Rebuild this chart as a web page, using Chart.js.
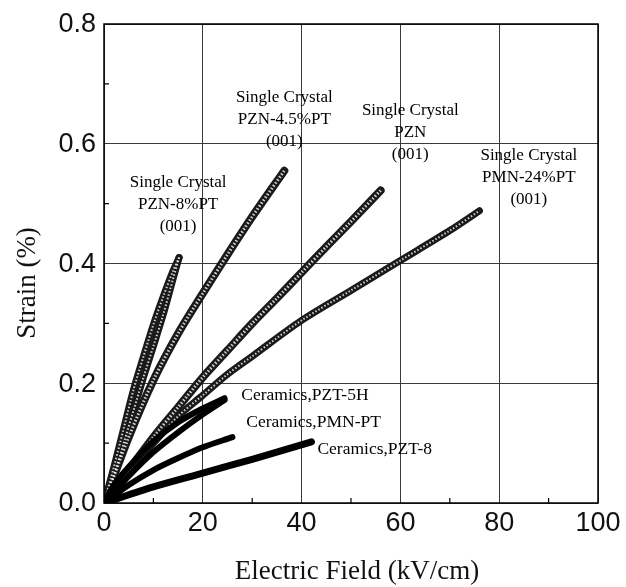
<!DOCTYPE html>
<html>
<head>
<meta charset="utf-8">
<script src="https://cdn.jsdelivr.net/npm/chart.js@4/dist/chart.umd.min.js"></script>
<style>
html,body{margin:0;padding:0;background:#fff;}
#wrap{width:626px;height:587px;}
</style>
</head>
<body>
<div id="wrap"><canvas id="c" width="626" height="587"></canvas></div>
<script>
// ---- data (Electric Field kV/cm, Strain %) ----
const X_TICKS = [0, 20, 40, 60, 80, 100];
const Y_TICKS = [0.0, 0.2, 0.4, 0.6, 0.8];

const FIELD_PZN8_UP = [0, 2, 4, 6, 8, 10, 12, 14, 15.2];
const STRAIN_PZN8_UP = [0, 0.06, 0.125, 0.19, 0.245, 0.298, 0.345, 0.388, 0.41];
const FIELD_PZN8_DOWN = [0, 2, 4, 6, 8, 10, 12, 14, 15.2];
const STRAIN_PZN8_DOWN = [0, 0.045, 0.1, 0.155, 0.21, 0.262, 0.315, 0.375, 0.41];

const FIELD_PZN45 = [0, 5, 10, 15, 20, 25, 30, 36.5];
const STRAIN_PZN45 = [0, 0.11, 0.205, 0.283, 0.35, 0.415, 0.478, 0.555];

const FIELD_PZN = [0, 5, 10, 15, 20, 25, 30, 35, 40, 45, 50, 56];
const STRAIN_PZN = [0, 0.055, 0.11, 0.16, 0.21, 0.255, 0.3, 0.342, 0.385, 0.428, 0.47, 0.522];

const FIELD_PMN24 = [0, 5, 10, 15, 20, 25, 30, 40, 50, 60, 70, 76];
const STRAIN_PMN24 = [0, 0.055, 0.1, 0.145, 0.18, 0.215, 0.245, 0.305, 0.355, 0.405, 0.455, 0.488];

const FIELD_PZT5H_UP = [0, 2, 5, 10, 15, 20, 24.4];
const STRAIN_PZT5H_UP = [0, 0.03, 0.06, 0.103, 0.135, 0.158, 0.175];
const FIELD_PZT5H_DOWN = [0, 2, 5, 10, 15, 20, 24.4];
const STRAIN_PZT5H_DOWN = [0, 0.018, 0.045, 0.085, 0.118, 0.148, 0.172];

const FIELD_PMNPT_CER = [0, 5, 10, 15, 20, 26];
const STRAIN_PMNPT_CER = [0, 0.03, 0.055, 0.075, 0.093, 0.11];

const FIELD_PZT8 = [0, 10, 20, 30, 42];
const STRAIN_PZT8 = [0, 0.027, 0.05, 0.073, 0.102];

const LABELS = [
  {lines: ['Single Crystal', 'PZN-8%PT', '(001)'], x: 15, y: 0.535},
  {lines: ['Single Crystal', 'PZN-4.5%PT', '(001)'], x: 36.5, y: 0.678},
  {lines: ['Single Crystal', 'PZN', '(001)'], x: 62, y: 0.655},
  {lines: ['Single Crystal', 'PMN-24%PT', '(001)'], x: 86, y: 0.58},
];
const CER_LABELS = [
  {text: 'Ceramics,PZT-5H', x: 27.8, y: 0.18},
  {text: 'Ceramics,PMN-PT', x: 28.8, y: 0.135},
  {text: 'Ceramics,PZT-8', x: 43.2, y: 0.09},
];

function pts(xs, ys){ return xs.map((x, i) => ({x: x, y: ys[i]})); }

function crystal(xs, ys, w){
  return [
    {data: pts(xs, ys), showLine: true, borderColor: '#1a1a1a', borderWidth: w,
     pointRadius: 0, borderCapStyle: 'round', borderJoinStyle: 'round', tension: 0.3, order: 2},
    {data: pts(xs, ys), showLine: true, borderColor: 'rgba(255,255,255,0.8)', borderWidth: Math.max(w - 5, 1.5),
     borderDash: [1.5, 2], pointRadius: 0, borderCapStyle: 'butt', tension: 0.3, order: 1}
  ];
}
function ceramic(xs, ys, w){
  return {data: pts(xs, ys), showLine: true, borderColor: '#000', borderWidth: w,
    pointRadius: 0, borderCapStyle: 'round', borderJoinStyle: 'round', tension: 0.3, order: 0};
}

const datasets = [].concat(
  crystal(FIELD_PZN8_UP, STRAIN_PZN8_UP, 7),
  crystal(FIELD_PZN8_DOWN, STRAIN_PZN8_DOWN, 7),
  crystal(FIELD_PZN45, STRAIN_PZN45, 8),
  crystal(FIELD_PZN, STRAIN_PZN, 8),
  crystal(FIELD_PMN24, STRAIN_PMN24, 7),
  [ceramic(FIELD_PZT5H_UP, STRAIN_PZT5H_UP, 6),
   ceramic(FIELD_PZT5H_DOWN, STRAIN_PZT5H_DOWN, 6),
   ceramic(FIELD_PMNPT_CER, STRAIN_PMNPT_CER, 6),
   ceramic(FIELD_PZT8, STRAIN_PZT8, 7)]
);

const decor = {
  id: 'decor',
  afterDraw(chart){
    const {ctx, chartArea: a, scales: {x, y}} = chart;
    ctx.save();
    // frame
    ctx.strokeStyle = '#000';
    ctx.lineWidth = 1.5;
    ctx.strokeRect(a.left, a.top, a.right - a.left, a.bottom - a.top);
    // minor inward ticks
    ctx.lineWidth = 1.2;
    ctx.beginPath();
    for (let v = 10; v < 100; v += 20){
      const px = x.getPixelForValue(v);
      ctx.moveTo(px, a.bottom); ctx.lineTo(px, a.bottom - 5);
    }
    for (let v = 0.1; v < 0.8; v += 0.2){
      const py = y.getPixelForValue(v);
      ctx.moveTo(a.left, py); ctx.lineTo(a.left + 5, py);
    }
    ctx.stroke();
    // tick labels
    ctx.fillStyle = '#111';
    ctx.font = '27px "Liberation Sans", Arial, sans-serif';
    ctx.textAlign = 'right'; ctx.textBaseline = 'middle';
    Y_TICKS.forEach(v => ctx.fillText(v.toFixed(1), a.left - 8, y.getPixelForValue(v) + 1));
    ctx.textAlign = 'center'; ctx.textBaseline = 'middle';
    X_TICKS.forEach(v => ctx.fillText(String(v), x.getPixelForValue(v), a.bottom + 21));
    // axis titles
    ctx.font = '27px "Liberation Serif", "Times New Roman", serif';
    ctx.fillText('Electric Field (kV/cm)', 357, 572);
    ctx.save();
    ctx.translate(28, 283);
    ctx.rotate(-Math.PI / 2);
    ctx.fillText('Strain (%)', 0, 0);
    ctx.restore();
    // annotations
    ctx.fillStyle = '#000';
    ctx.font = '17px "Liberation Serif", "Times New Roman", serif';
    ctx.textAlign = 'center';
    LABELS.forEach(L => {
      const px = x.getPixelForValue(L.x), py = y.getPixelForValue(L.y);
      L.lines.forEach((t, i) => ctx.fillText(t, px, py + i * 22));
    });
    ctx.font = '17.5px "Liberation Serif", "Times New Roman", serif';
    ctx.textAlign = 'left';
    CER_LABELS.forEach(L => ctx.fillText(L.text, x.getPixelForValue(L.x), y.getPixelForValue(L.y)));
    ctx.restore();
  }
};

new Chart(document.getElementById('c'), {
  type: 'scatter',
  data: {datasets: datasets},
  options: {
    responsive: false,
    animation: false,
    layout: {padding: {left: 10, right: 28, top: 24, bottom: 0}},
    plugins: {legend: {display: false}, tooltip: {enabled: false}},
    scales: {
      x: {
        type: 'linear', min: 0, max: 100,
        ticks: {display: false, stepSize: 20},
        grid: {color: '#3a3a3a', lineWidth: 1, drawTicks: false},
        border: {display: false},
        afterFit(s){ s.height = 84; }
      },
      y: {
        type: 'linear', min: 0, max: 0.8,
        ticks: {display: false, stepSize: 0.2},
        grid: {color: '#3a3a3a', lineWidth: 1, drawTicks: false},
        border: {display: false},
        afterFit(s){ s.width = 94; }
      }
    }
  },
  plugins: [decor]
});
</script>
</body>
</html>
